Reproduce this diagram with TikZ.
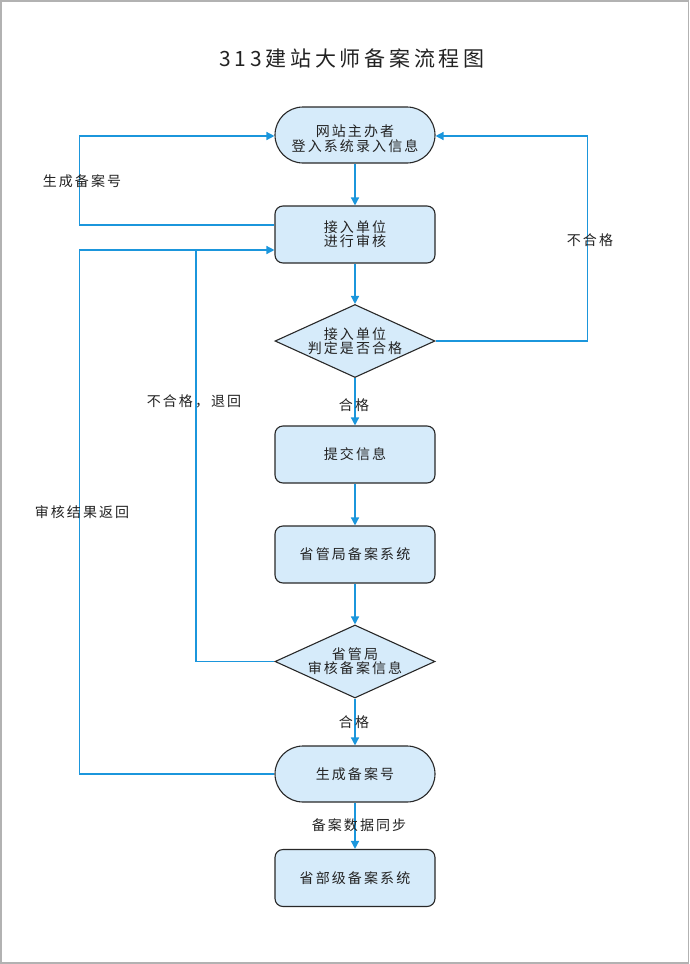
\documentclass[tikz,border=0pt]{standalone}
\usepackage{fontspec}
\setmainfont{Noto Sans CJK SC}[LetterSpace=15]
\newfontfamily\titlefont{Noto Sans CJK SC}[LetterSpace=18]
\usetikzlibrary{arrows.meta,shapes.geometric}
\definecolor{lineblue}{RGB}{27,150,220}
\definecolor{boxfill}{RGB}{214,235,250}
\definecolor{boxdraw}{RGB}{40,40,40}
\definecolor{framegray}{RGB}{178,178,178}
\definecolor{txt}{RGB}{34,34,34}
\begin{document}
\begin{tikzpicture}[x=1pt,y=-1pt,
  txtfont/.style={font=\fontsize{14}{12.5}\selectfont, text=txt},
  box/.style={draw=boxdraw, fill=boxfill, line width=1.1pt, minimum width=160pt,
    minimum height=57pt, rounded corners=8pt, align=center, inner sep=0pt, txtfont},
  stadium/.style={box, rounded corners=28pt, minimum height=56pt},
  decision/.style={diamond, aspect=2.2, draw=boxdraw, fill=boxfill, line width=1.1pt,
    minimum width=160pt, minimum height=73pt, align=center, inner sep=0pt, txtfont},
  conn/.style={draw=lineblue, line width=1.4pt},
  arr/.style={conn, -{Triangle[length=8pt,width=8pt]}},
  lbl/.style={txtfont, inner sep=0pt}
]
\useasboundingbox (0,0) rectangle (690,964);
\draw[framegray, line width=1.2pt] (1,1) rectangle (688.5,963);

\node[font=\titlefont\fontsize{21}{23}\selectfont, text=txt] (title) at (352,58) {313建站大师备案流程图};

\node[stadium] (n1) at (355,135) {\raisebox{-5pt}[\height][\depth]{\begin{tabular}{@{}c@{}}网站主办者\\登入系统录入信息\end{tabular}}};
\node[box] (n2) at (355,234.5) {接入单位\\进行审核};
\node[decision] (d1) at (355,341) {接入单位\\判定是否合格};
\node[box] (n3) at (355,454.5) {提交信息};
\node[box] (n4) at (355,554.5) {省管局备案系统};
\node[decision] (d2) at (355,661.5) {省管局\\审核备案信息};
\node[stadium] (n5) at (355,774) {生成备案号};
\node[box] (n6) at (355,878) {省部级备案系统};

\draw[arr] (n1) -- (n2);
\draw[arr] (n2) -- (d1);
\draw[arr] (d1) -- (n3);
\draw[arr] (n3) -- (n4);
\draw[arr] (n4) -- (d2);
\draw[arr] (d2) -- (n5);
\draw[arr] (n5) -- (n6);

\node[lbl] (l1) at (354,405) {合格};
\node[lbl] (l2) at (354,722) {合格};
\node[lbl] (l3) at (359,825) {备案数据同步};

% loops
\coordinate (m) at (196,250);
\draw[arr] ([yshift=9.5pt]n2.west) -- ++(-195,0) |- ([yshift=-1pt]n1.west);
\draw[arr] (d1.east) -- ++(152,0) |- ([yshift=-1pt]n1.east);
\draw[conn] (d2.west) -| (m);
\draw[arr] (m) -- (m -| n2.west);
\draw[conn] (n5.west) -- ++(-195,0) |- (m);

\node[lbl] (l4) at (82,181) {生成备案号};
\node[lbl] (l5) at (590,240) {不合格};
\node[lbl] (l6) at (194,401) {不合格，退回};
\node[lbl] (l7) at (82,512) {审核结果返回};
\end{tikzpicture}
\end{document}
